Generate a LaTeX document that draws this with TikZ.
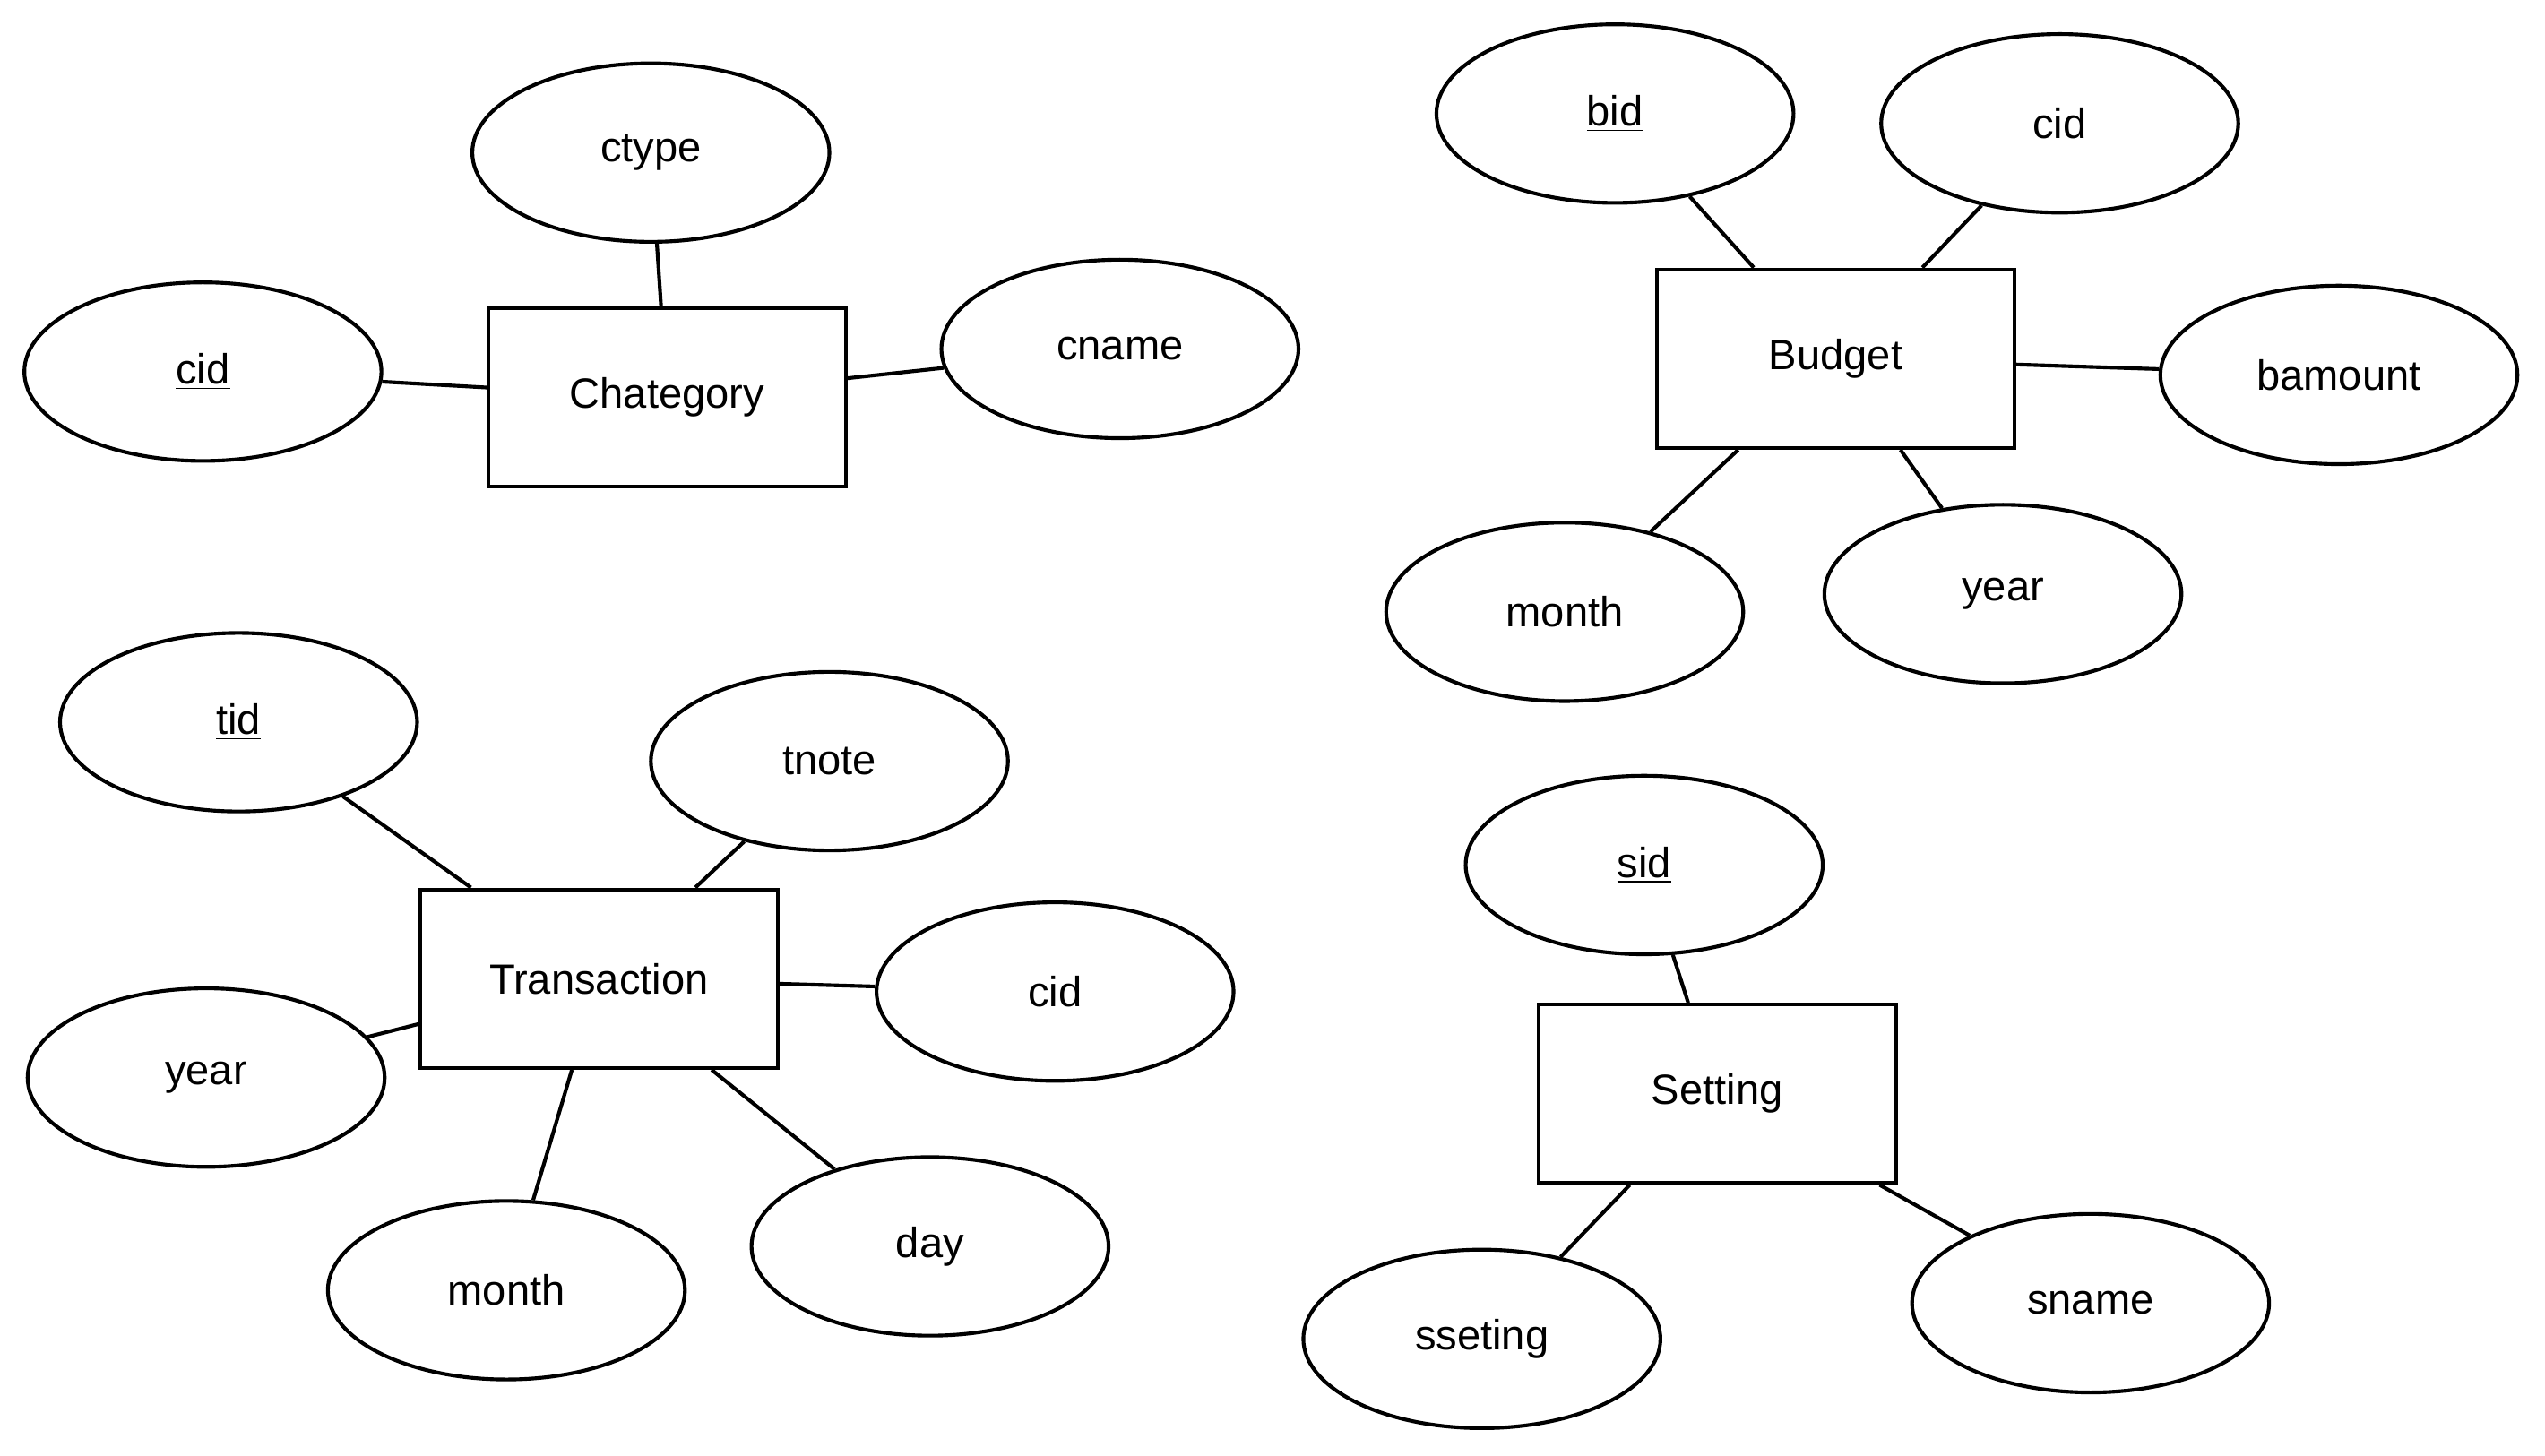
\documentclass[tikz,border=0pt]{standalone}
\usepackage{fontspec}
\setmainfont{Liberation Sans}
\usepackage{tikz}
\usetikzlibrary{shapes.geometric, positioning}

\begin{document}
\begin{tikzpicture}[
    entity/.style={draw, line width=1.3pt, inner sep=0pt, minimum width=4.4cm, minimum height=2.2cm, font=\fontsize{14.8}{18}\selectfont},
    attr/.style={draw, ellipse, line width=1.3pt, inner sep=0pt, minimum width=4.4cm, minimum height=2.2cm, font=\fontsize{14.8}{18}\selectfont},
    link/.style={line width=1.3pt}
]
\useasboundingbox (0,0) rectangle (31.36,-17.94);

% Chategory
\node[entity] (cat) at (8.22,-4.90) {Chategory};
\node[attr] (catctype) at (8.02,-1.88) {ctype};
\node[attr] (catcname) at (13.80,-4.30) {cname};
\node[attr] (catcid) at (2.50,-4.58) {\underline{cid}};

\draw[link] (cat) -- (catctype);
\draw[link] (cat) -- (catcname);
\draw[link] (cat) -- (catcid);

% Budget
\node[entity] (bud) at (22.62,-4.42) {Budget};
\node[attr] (budbid) at (19.90,-1.40) {\underline{bid}};
\node[attr] (budcid) at (25.38,-1.52) {cid};
\node[attr] (budamount) at (28.82,-4.62) {bamount};
\node[attr] (budmonth) at (19.28,-7.54) {month};
\node[attr] (budyear) at (24.68,-7.32) {year};

\draw[link] (bud) -- (budbid);
\draw[link] (bud) -- (budcid);
\draw[link] (bud) -- (budamount);
\draw[link] (bud) -- (budmonth);
\draw[link] (bud) -- (budyear);

% Transaction
\node[entity] (tra) at (7.38,-12.06) {Transaction};
\node[attr] (tratid) at (2.94,-8.90) {\underline{tid}};
\node[attr] (tranote) at (10.22,-9.38) {tnote};
\node[attr] (tracid) at (13.00,-12.22) {cid};
\node[attr] (trayear) at (2.54,-13.28) {year};
\node[attr] (tramonth) at (6.24,-15.90) {month};
\node[attr] (traday) at (11.46,-15.36) {day};

\draw[link] (tra) -- (tratid);
\draw[link] (tra) -- (tranote);
\draw[link] (tra) -- (tracid);
\draw[link] (tra) -- (trayear);
\draw[link] (tra) -- (tramonth);
\draw[link] (tra) -- (traday);

% Setting
\node[entity] (set) at (21.16,-13.48) {Setting};
\node[attr] (setsid) at (20.26,-10.66) {\underline{sid}};
\node[attr] (setseting) at (18.26,-16.50) {sseting};
\node[attr] (setname) at (25.76,-16.06) {sname};

\draw[link] (set) -- (setsid);
\draw[link] (set) -- (setseting);
\draw[link] (set) -- (setname);

\end{tikzpicture}
\end{document}
